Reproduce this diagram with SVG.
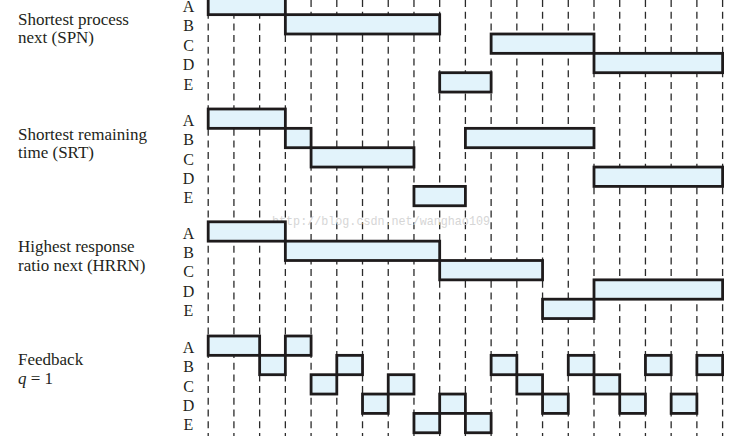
<svg xmlns="http://www.w3.org/2000/svg" width="747" height="439" viewBox="0 0 747 439">
<style>
  .bg{fill:#ffffff}
  .grid line{stroke:#2a2a2a;stroke-width:1.3;stroke-dasharray:7 4.7}
  .bar{fill:#e2f3fb;stroke:#1e1b1c;stroke-width:2.8;stroke-linejoin:miter}
  .lbl{font-size:16px;fill:#231f20;text-anchor:middle}
  .ttl{font-size:17px;fill:#231f20}
  .wm{font-size:13px;fill:#d6d6d6}
</style>
<defs>
  <g id="letters" font-family="'Liberation Serif', 'Times New Roman', 'DejaVu Serif', serif">
    <text class="lbl" x="188.5" y="16.85">A</text>
    <text class="lbl" x="188.5" y="36.2">B</text>
    <text class="lbl" x="188.5" y="55.55">C</text>
    <text class="lbl" x="188.5" y="74.9">D</text>
    <text class="lbl" x="188.5" y="94.25">E</text>
  </g>
</defs>
<rect class="bg" x="0" y="0" width="747" height="439"/>

<g id="connectors" class="grid">
  <line x1="208.2" y1="0" x2="208.2" y2="436"/>
  <line x1="233.92" y1="0" x2="233.92" y2="436"/>
  <line x1="259.64" y1="0" x2="259.64" y2="436"/>
  <line x1="285.36" y1="0" x2="285.36" y2="436"/>
  <line x1="311.08" y1="0" x2="311.08" y2="436"/>
  <line x1="336.8" y1="0" x2="336.8" y2="436"/>
  <line x1="362.52" y1="0" x2="362.52" y2="436"/>
  <line x1="388.24" y1="0" x2="388.24" y2="436"/>
  <line x1="413.96" y1="0" x2="413.96" y2="436"/>
  <line x1="439.68" y1="0" x2="439.68" y2="436"/>
  <line x1="465.4" y1="0" x2="465.4" y2="436"/>
  <line x1="491.12" y1="0" x2="491.12" y2="436"/>
  <line x1="516.84" y1="0" x2="516.84" y2="436"/>
  <line x1="542.56" y1="0" x2="542.56" y2="436"/>
  <line x1="568.28" y1="0" x2="568.28" y2="436"/>
  <line x1="594" y1="0" x2="594" y2="436"/>
  <line x1="619.72" y1="0" x2="619.72" y2="436"/>
  <line x1="645.44" y1="0" x2="645.44" y2="436"/>
  <line x1="671.16" y1="0" x2="671.16" y2="436"/>
  <line x1="696.88" y1="0" x2="696.88" y2="436"/>
  <line x1="722.6" y1="0" x2="722.6" y2="436"/>
</g>

<g id="watermark" font-family="'Liberation Mono', 'Courier New', 'DejaVu Sans Mono', monospace">
  <text class="wm" x="272" y="225" textLength="218" lengthAdjust="spacingAndGlyphs">http://blog.csdn.net/wanghao109</text>
</g>

<g id="panel-spn" transform="translate(0,-4.7)" font-family="'Liberation Serif', 'Times New Roman', 'DejaVu Serif', serif">
  <text class="ttl" x="18" y="29.7">Shortest process</text>
  <text class="ttl" x="18" y="48.2">next (SPN)</text>
  <use href="#letters"/>
  <rect class="bar" x="208.2" y="0" width="77.16" height="19.35"/>
  <rect class="bar" x="285.36" y="19.35" width="154.32" height="19.35"/>
  <rect class="bar" x="439.68" y="77.4" width="51.44" height="19.35"/>
  <rect class="bar" x="491.12" y="38.7" width="102.88" height="19.35"/>
  <rect class="bar" x="594" y="58.05" width="128.6" height="19.35"/>
</g>

<g id="panel-srt" transform="translate(0,109)" font-family="'Liberation Serif', 'Times New Roman', 'DejaVu Serif', serif">
  <text class="ttl" x="18" y="30.5">Shortest remaining</text>
  <text class="ttl" x="18" y="49">time (SRT)</text>
  <use href="#letters"/>
  <rect class="bar" x="208.2" y="0" width="77.16" height="19.35"/>
  <rect class="bar" x="285.36" y="19.35" width="25.72" height="19.35"/>
  <rect class="bar" x="311.08" y="38.7" width="102.88" height="19.35"/>
  <rect class="bar" x="413.96" y="77.4" width="51.44" height="19.35"/>
  <rect class="bar" x="465.4" y="19.35" width="128.6" height="19.35"/>
  <rect class="bar" x="594" y="58.05" width="128.6" height="19.35"/>
</g>

<g id="panel-hrrn" transform="translate(0,221.8)" font-family="'Liberation Serif', 'Times New Roman', 'DejaVu Serif', serif">
  <text class="ttl" x="18" y="30.7">Highest response</text>
  <text class="ttl" x="18" y="49.7">ratio next (HRRN)</text>
  <use href="#letters"/>
  <rect class="bar" x="208.2" y="0" width="77.16" height="19.35"/>
  <rect class="bar" x="285.36" y="19.35" width="154.32" height="19.35"/>
  <rect class="bar" x="439.68" y="38.7" width="102.88" height="19.35"/>
  <rect class="bar" x="542.56" y="77.4" width="51.44" height="19.35"/>
  <rect class="bar" x="594" y="58.05" width="128.6" height="19.35"/>
</g>

<g id="panel-feedback" transform="translate(0,336)" font-family="'Liberation Serif', 'Times New Roman', 'DejaVu Serif', serif">
  <text class="ttl" x="18" y="29">Feedback</text>
  <text class="ttl" x="18" y="48"><tspan font-style="italic">q</tspan> = 1</text>
  <use href="#letters"/>
  <rect class="bar" x="208.2" y="0" width="51.44" height="19.35"/>
  <rect class="bar" x="259.64" y="19.35" width="25.72" height="19.35"/>
  <rect class="bar" x="285.36" y="0" width="25.72" height="19.35"/>
  <rect class="bar" x="311.08" y="38.7" width="25.72" height="19.35"/>
  <rect class="bar" x="336.8" y="19.35" width="25.72" height="19.35"/>
  <rect class="bar" x="362.52" y="58.05" width="25.72" height="19.35"/>
  <rect class="bar" x="388.24" y="38.7" width="25.72" height="19.35"/>
  <rect class="bar" x="413.96" y="77.4" width="25.72" height="19.35"/>
  <rect class="bar" x="439.68" y="58.05" width="25.72" height="19.35"/>
  <rect class="bar" x="465.4" y="77.4" width="25.72" height="19.35"/>
  <rect class="bar" x="491.12" y="19.35" width="25.72" height="19.35"/>
  <rect class="bar" x="516.84" y="38.7" width="25.72" height="19.35"/>
  <rect class="bar" x="542.56" y="58.05" width="25.72" height="19.35"/>
  <rect class="bar" x="568.28" y="19.35" width="25.72" height="19.35"/>
  <rect class="bar" x="594" y="38.7" width="25.72" height="19.35"/>
  <rect class="bar" x="619.72" y="58.05" width="25.72" height="19.35"/>
  <rect class="bar" x="645.44" y="19.35" width="25.72" height="19.35"/>
  <rect class="bar" x="671.16" y="58.05" width="25.72" height="19.35"/>
  <rect class="bar" x="696.88" y="19.35" width="25.72" height="19.35"/>
</g>
</svg>
